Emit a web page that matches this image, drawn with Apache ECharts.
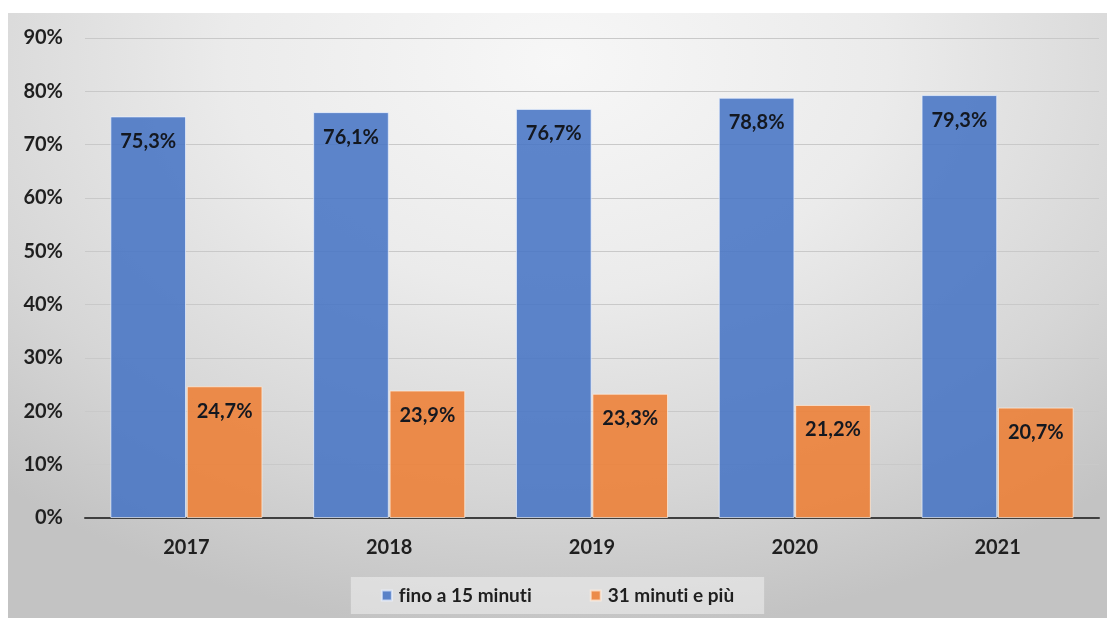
<!DOCTYPE html>
<html>
<head>
<meta charset="utf-8">
<script src="https://cdn.jsdelivr.net/npm/echarts@6/dist/echarts.min.js"></script>
<style>
  html, body { margin: 0; padding: 0; background: #ffffff; width: 1107px; height: 618px; overflow: hidden; }
  #frame {
    position: absolute; left: 8px; top: 13px; width: 1099px; height: 605px;
    background: radial-gradient(ellipse 75% 95% at 50% 8%, #f7f7f7 0%, #ebebeb 40%, #d6d6d6 75%, #c3c3c3 100%);
  }
  #chart { position: absolute; left: 0; top: 0; width: 1099px; height: 605px; }
</style>
</head>
<body>
<div id="frame"><div id="chart"></div></div>
<script>
// Years on the category axis
const years = ['2017', '2018', '2019', '2020', '2021'];
// Share of trips up to 15 minutes (%)
const upTo15 = [75.3, 76.1, 76.7, 78.8, 79.3];
// Share of trips of 31 minutes or more (%)
const over31 = [24.7, 23.9, 23.3, 21.2, 20.7];
const seriesNames = ['fino a 15 minuti', '31 minuti e più'];

const fontFamily = 'Lato, "Open Sans", sans-serif';
const fmt = v => v.toFixed(1).replace('.', ',') + '%';
// keep "fi" / "ti" as separate glyphs (no typographic ligatures)
const noLig = s => s.replace(/([ft])(?=i)/g, '$1\u200C');

const chart = echarts.init(document.getElementById('chart'), null, { renderer: 'canvas' });

const labelStyle = {
  show: true,
  position: 'insideTop',
  distance: 15,
  fontFamily: fontFamily,
  fontWeight: 'bold',
  fontSize: 20,
  color: '#141820',
  formatter: p => fmt(p.value)
};

chart.setOption({
  backgroundColor: 'transparent',
  animation: false,
  grid: { left: 77, right: 8, top: 25, bottom: 100 },
  legend: {
    data: seriesNames,
    bottom: 4,
    left: 'center',
    itemWidth: 10,
    itemHeight: 10,
    itemGap: 58,
    padding: [9, 30, 9, 30],
    backgroundColor: 'rgba(240,240,240,0.55)',
    icon: 'rect',
    formatter: name => noLig(name),
    textStyle: { fontFamily: fontFamily, fontWeight: 'bold', fontSize: 19, color: '#1f1f1f', padding: [0, 0, 0, 2] }
  },
  xAxis: {
    type: 'category',
    data: years,
    axisLine: { lineStyle: { color: '#3f3f3f', width: 2 } },
    axisTick: { show: false },
    axisLabel: { fontFamily: fontFamily, fontWeight: 'bold', fontSize: 20, color: '#1f1f1f', margin: 20 }
  },
  yAxis: {
    type: 'value',
    min: 0,
    max: 90,
    interval: 10,
    axisLine: { show: false },
    axisTick: { show: false },
    splitLine: { lineStyle: { color: '#c9c9c9', width: 1 } },
    axisLabel: { fontFamily: fontFamily, fontWeight: 'bold', fontSize: 20, color: '#1f1f1f', margin: 22, formatter: v => v + '%' }
  },
  series: [
    {
      name: seriesNames[0],
      type: 'bar',
      data: upTo15,
      barGap: '1%',
      barCategoryGap: '25%',
      itemStyle: { color: 'rgba(68,114,196,0.86)', borderColor: 'rgba(235,242,255,0.7)', borderWidth: 1 },
      label: labelStyle
    },
    {
      name: seriesNames[1],
      type: 'bar',
      data: over31,
      barGap: '1%',
      barCategoryGap: '25%',
      itemStyle: { color: 'rgba(237,125,49,0.86)', borderColor: 'rgba(255,240,225,0.7)', borderWidth: 1 },
      label: labelStyle
    }
  ]
});
</script>
</body>
</html>
